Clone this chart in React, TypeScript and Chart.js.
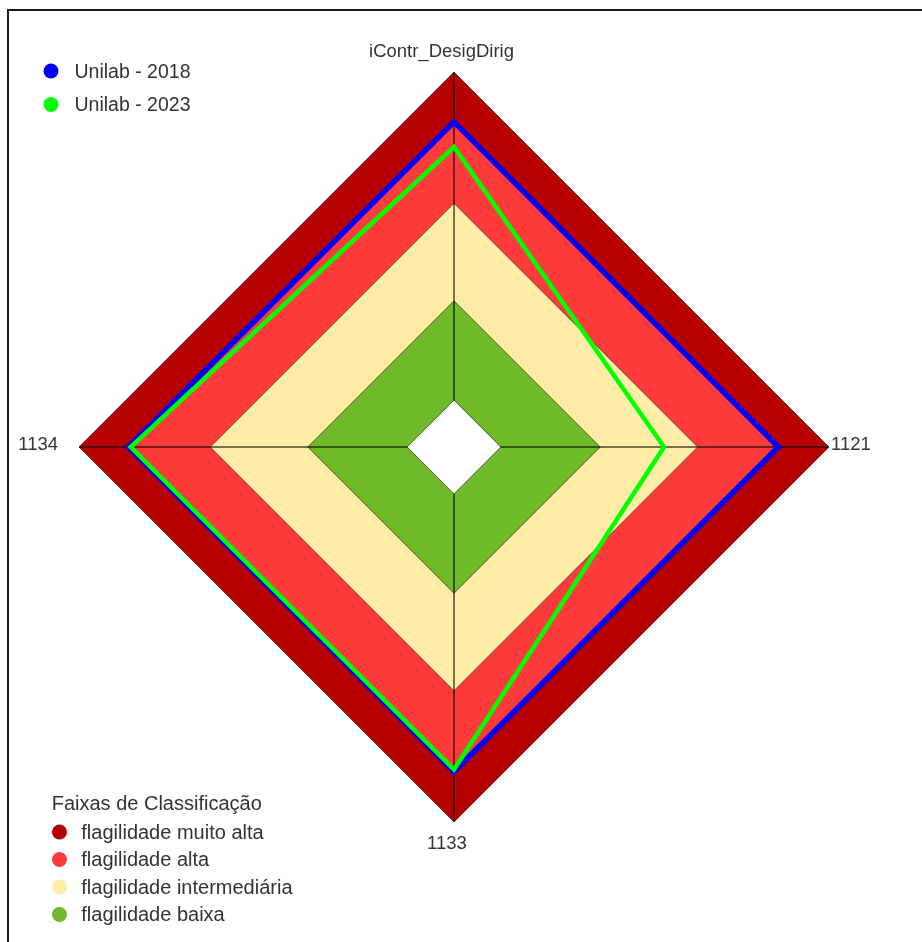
import { useEffect, useRef } from 'react';
import { Chart, registerables } from 'chart.js';

Chart.register(...registerables);

// ---- data ----
const axisLabels = ['iContr_DesigDirig', '1121', '1133', '1134'];
const seriesNames = ['Unilab - 2018', 'Unilab - 2023'];
const series2018 = [0.867, 0.865, 0.866, 0.868];
const series2023 = [0.8, 0.56, 0.86, 0.862];
const seriesColors = ['#0000FF', '#00FF00'];

const bandLegendTitle = 'Faixas de Classificação';
const bandNames = ['flagilidade muito alta', 'flagilidade alta', 'flagilidade intermediária', 'flagilidade baixa'];
const bandLimits = [1.0, 0.867, 0.65, 0.39];
const bandColors = ['#B70000', '#FF3A3A', '#FFECA6', '#6EBA28'];
const centerLimit = 0.125;

const FONT = '"Liberation Sans", Arial, sans-serif';
const TEXT = '#333333';

export default function App() {
  const ref = useRef<HTMLCanvasElement>(null);

  useEffect(() => {
    if (!ref.current) return;
    const greenBandIndex = 2 + bandLimits.length; // last band dataset drawn before the white centre

    const datasets: any[] = [
      {
        label: seriesNames[0], data: series2018, borderColor: seriesColors[0], backgroundColor: seriesColors[0],
        borderWidth: 5.5, fill: false, pointRadius: 0, order: 1, borderJoinStyle: 'miter',
      },
      {
        label: seriesNames[1], data: series2023, borderColor: seriesColors[1], backgroundColor: seriesColors[1],
        borderWidth: 4.5, fill: false, pointRadius: 0, order: 0, borderJoinStyle: 'miter',
      },
      {
        label: 'centro', data: axisLabels.map(() => centerLimit), backgroundColor: '#FFFFFF',
        borderColor: 'rgba(0,0,0,0.55)', borderWidth: 1, fill: true, pointRadius: 0, order: 2,
      },
      ...bandLimits.map((v, i) => ({
        label: bandNames[i], data: axisLabels.map(() => v), backgroundColor: bandColors[i],
        borderColor: 'rgba(0,0,0,0.55)', borderWidth: 1, fill: true, pointRadius: 0,
        order: 3 + (bandLimits.length - 1 - i),
      })),
    ];

    const overlay = {
      id: 'overlay',
      afterDatasetDraw(chart: any, args: any) {
        if (args.index !== greenBandIndex) return;
        const scale = chart.scales.r;
        const ctx = chart.ctx;
        ctx.save();
        ctx.strokeStyle = 'rgba(0,0,0,0.7)';
        ctx.lineWidth = 1.5;
        for (let i = 0; i < axisLabels.length; i++) {
          const p = scale.getPointPositionForValue(i, scale.max);
          ctx.beginPath();
          ctx.moveTo(scale.xCenter, scale.yCenter);
          ctx.lineTo(p.x, p.y);
          ctx.stroke();
        }
        ctx.restore();
      },
      afterDraw(chart: any) {
        const scale = chart.scales.r;
        const ctx = chart.ctx;
        ctx.save();
        // point labels
        ctx.fillStyle = TEXT;
        ctx.font = `18.5px ${FONT}`;
        ctx.textBaseline = 'alphabetic';
        const offs = [
          { dx: -12.5, dy: -15, align: 'center' },
          { dx: 2, dy: 2.5, align: 'left' },
          { dx: -7, dy: 26.5, align: 'center' },
          { dx: -21, dy: 2.5, align: 'right' },
        ];
        axisLabels.forEach((lab, i) => {
          const p = scale.getPointPositionForValue(i, scale.max);
          const o = offs[i];
          ctx.textAlign = o.align;
          ctx.fillText(lab, p.x + o.dx, p.y + o.dy);
        });

        // series legend (top-left)
        ctx.textAlign = 'left';
        ctx.font = `19.5px ${FONT}`;
        seriesNames.forEach((name, i) => {
          const cy = 71 + i * 33.5;
          ctx.fillStyle = seriesColors[i];
          ctx.beginPath();
          ctx.arc(51, cy, 7.5, 0, Math.PI * 2);
          ctx.fill();
          ctx.fillStyle = TEXT;
          ctx.fillText(name, 74.5, cy + 6.5);
        });

        // bands legend (bottom-left)
        ctx.font = `20px ${FONT}`;
        ctx.fillStyle = TEXT;
        ctx.fillText(bandLegendTitle, 51.7, 810);
        bandNames.forEach((name, i) => {
          const cy = 832 + i * 27.5;
          ctx.fillStyle = bandColors[i];
          ctx.beginPath();
          ctx.arc(59.5, cy, 7.5, 0, Math.PI * 2);
          ctx.fill();
          ctx.fillStyle = TEXT;
          ctx.fillText(name, 81.3, cy + 6.5);
        });
        ctx.restore();
      },
    };

    const chart = new Chart(ref.current, {
      type: 'radar',
      data: { labels: axisLabels, datasets },
      options: {
        responsive: false,
        animation: false,
        devicePixelRatio: 1,
        layout: { padding: { left: 79, top: 72, right: 93, bottom: 120 } },
        elements: { line: { tension: 0 } },
        plugins: { legend: { display: false }, tooltip: { enabled: false }, title: { display: false } },
        scales: {
          r: {
            min: 0,
            max: 1,
            grid: { display: false },
            angleLines: { display: false },
            ticks: { display: false },
            pointLabels: { display: false },
          },
        },
      } as any,
      plugins: [overlay],
    });
    return () => chart.destroy();
  }, []);

  return (
    <>
      <div
        style={{
          position: 'fixed', left: 7, top: 9, width: 1000, height: 1000,
          borderTop: '2px solid #1a1a1a', borderLeft: '2px solid #1a1a1a', boxSizing: 'border-box',
        }}
      />
      <canvas
        ref={ref}
        width={922}
        height={942}
        style={{ position: 'fixed', left: 0, top: 0, width: 922, height: 942 }}
      />
    </>
  );
}
